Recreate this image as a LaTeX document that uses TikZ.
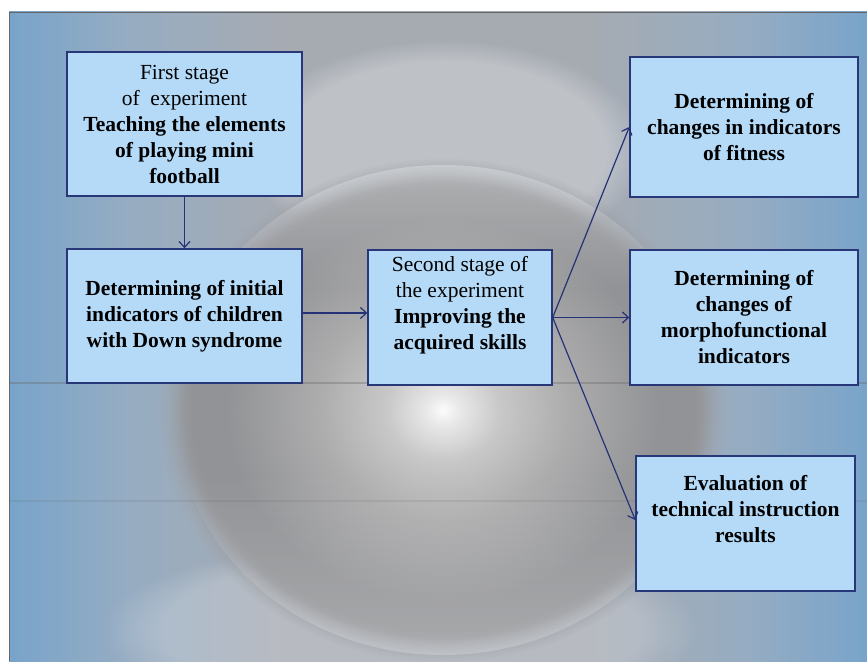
\documentclass[tikz,border=0pt]{standalone}
\usepackage{fontspec}
\setmainfont{Liberation Serif}
\usetikzlibrary{arrows.meta,fadings}
\definecolor{bgblue}{RGB}{120,164,202}
\definecolor{bgmid}{RGB}{150,172,194}
\definecolor{bggrey}{RGB}{166,171,178}
\definecolor{boxfill}{RGB}{180,218,248}
\definecolor{boxline}{RGB}{40,55,120}
\definecolor{arrowc}{RGB}{38,50,120}
\definecolor{sphA}{RGB}{252,252,252}
\definecolor{sphB}{RGB}{232,232,232}
\definecolor{sphC}{RGB}{200,200,200}
\definecolor{sphD}{RGB}{172,172,173}
\definecolor{sphE}{RGB}{146,147,150}
\definecolor{sphF}{RGB}{160,165,172}
\pgfdeclareradialshading{sphere}{\pgfpoint{0bp}{0bp}}{%
  color(0bp)=(sphA); color(1.5bp)=(sphB); color(5bp)=(sphC); color(11bp)=(sphD);
  color(19bp)=(sphE); color(22bp)=(sphE); color(25bp)=(sphF); color(50bp)=(sphF)}
\pgfdeclarehorizontalshading{bgshade}{100bp}{%
  color(0bp)=(bgblue); color(25bp)=(bgblue); color(32bp)=(bgmid); color(41bp)=(bggrey);
  color(59bp)=(bggrey); color(68bp)=(bgmid); color(75bp)=(bgblue); color(100bp)=(bgblue)}
\tikzset{
  box/.style={draw=boxline, line width=1.4pt, fill=boxfill, inner sep=0pt,
    align=center, font=\fontsize{21.5}{26}\selectfont},
  conn/.style={draw=arrowc, line width=1.2pt, -{Straight Barb[length=6pt,width=11pt]}},
  bgline/.style={draw=black!60, opacity=0.35, line width=1.3pt}
}
\begin{document}
\begin{tikzpicture}[x=1pt,y=-1pt]
\useasboundingbox (0,0) rectangle (867,661);
% background
\shade[shading=bgshade] (9,12) rectangle (867,661);
\begin{scope}
  \clip (9,12) rectangle (867,661);
  % light glow at top centre
  \fill[white, opacity=0.28, path fading=circle with fuzzy edge 20 percent] (445,150) ellipse (200 and 110);
  % light glow at bottom
  \fill[white, opacity=0.2, path fading=circle with fuzzy edge 20 percent] (400,630) ellipse (300 and 90);
  % sphere
  \shade[shading=sphere, path fading=circle with fuzzy edge 10 percent] (443,410) ellipse (285 and 252);
  \begin{scope}
    \clip (443,410) ellipse (268 and 245);
    % light cap at the top of the sphere
    \fill[white, opacity=0.28, path fading=south] (150,165) rectangle (740,290);
    % lighter lower part of the sphere
    \fill[white, opacity=0.22, path fading=north] (150,470) rectangle (740,660);
  \end{scope}
\end{scope}
\draw[bgline] (9,383) -- (867,383);
\draw[bgline, opacity=0.15] (9,501) -- (867,501);
\draw[black!60, line width=0.8pt] (9,661) -- (9,12) -- (867,12);
% boxes
\node[box, minimum width=235pt, minimum height=144pt] (b1) at (184.5,124)
  {First stage\\ of\ \ experiment\\ \textbf{Teaching the elements}\\ \textbf{of playing mini}\\ \textbf{football}};
\node[box, minimum width=235pt, minimum height=134pt] (b2) at (184.5,316)
  {\textbf{Determining of initial}\\ \textbf{indicators of children}\\ \textbf{with Down syndrome}};
\node[box, minimum width=184pt, minimum height=135pt] (b3) at (460,317.5)
  {Second stage of\\ the experiment\\ \textbf{Improving the}\\ \textbf{acquired skills}\\[-5pt] \strut};
\node[box, minimum width=228pt, minimum height=140pt] (b4) at (744,127)
  {\textbf{Determining of}\\ \textbf{changes in indicators}\\ \textbf{of fitness}};
\node[box, minimum width=228pt, minimum height=135pt] (b5) at (744,317.5)
  {\textbf{Determining of}\\ \textbf{changes of}\\ \textbf{morphofunctional}\\ \textbf{indicators}};
\node[box, minimum width=219pt, minimum height=135pt] (b6) at (745.5,523.5)
  {\textbf{Evaluation of}\\ \textbf{technical instruction}\\ \textbf{results}\\[-4pt] \strut};
% connectors
\draw[conn] (b1.south) -- (b2.north);
\draw[conn] ([yshift=3pt]b2.east) -- ([yshift=4.5pt]b3.west);
\draw[conn] (b3.east) -- (b4.west);
\draw[conn] (b3.east) -- (b5.west);
\draw[conn] (b3.east) -- ([yshift=3.5pt]b6.west);
\end{tikzpicture}
\end{document}
